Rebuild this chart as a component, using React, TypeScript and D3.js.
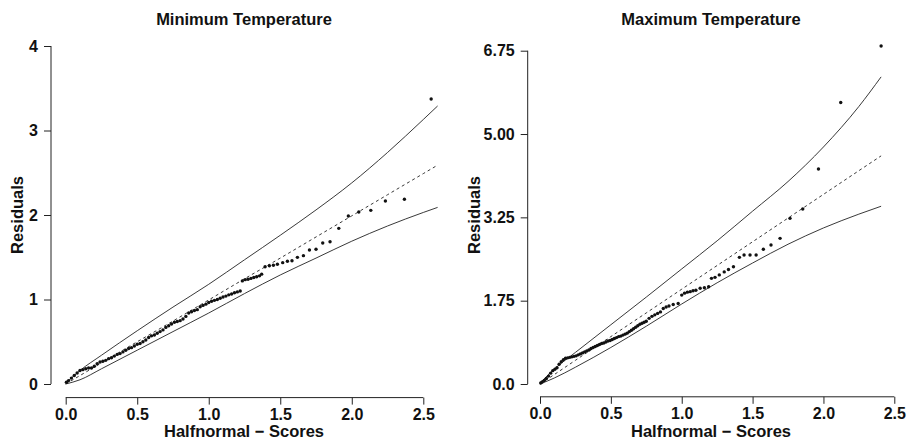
import React, { useRef, useEffect } from 'react';
import * as d3 from 'd3';

const W = 907;
const H = 443;
const FONT = '"Liberation Sans", Arial, Helvetica, sans-serif';

// ---- Minimum Temperature: half-normal scores vs residuals ----
const minScores = [
  0.005, 0.02, 0.04, 0.06, 0.08, 0.10, 0.12, 0.14, 0.16, 0.18, 0.20, 0.22, 0.24, 0.26, 0.28,
  0.30, 0.32, 0.34, 0.36, 0.38, 0.40, 0.42, 0.44, 0.46, 0.48, 0.50, 0.52, 0.54, 0.56, 0.58,
  0.60, 0.62, 0.64, 0.66, 0.68, 0.70, 0.72, 0.74, 0.76, 0.78, 0.80, 0.82, 0.84, 0.86, 0.88,
  0.90, 0.92, 0.94, 0.96, 0.98, 1.00, 1.02, 1.04, 1.06, 1.08, 1.10, 1.12, 1.14, 1.16, 1.18,
  1.20, 1.22, 1.235, 1.255, 1.275, 1.295, 1.315, 1.335, 1.355, 1.37, 1.394, 1.424, 1.452, 1.48,
  1.517, 1.55, 1.582, 1.62, 1.662, 1.704, 1.75, 1.797, 1.848, 1.909, 1.976, 2.049, 2.133,
  2.235, 2.368, 2.555,
];
const minResiduals = [
  0.02, 0.04, 0.07, 0.10, 0.13, 0.16, 0.17, 0.18, 0.19, 0.19, 0.21, 0.24, 0.26, 0.27, 0.28,
  0.30, 0.31, 0.33, 0.35, 0.36, 0.38, 0.40, 0.42, 0.43, 0.45, 0.47, 0.48, 0.50, 0.52, 0.55,
  0.57, 0.58, 0.60, 0.62, 0.64, 0.67, 0.69, 0.71, 0.73, 0.74, 0.75, 0.77, 0.80, 0.84, 0.855,
  0.87, 0.88, 0.915, 0.93, 0.945, 0.965, 0.98, 0.99, 1.0, 1.015, 1.03, 1.04, 1.055, 1.065, 1.08,
  1.09, 1.10, 1.22, 1.235, 1.24, 1.25, 1.26, 1.27, 1.28, 1.30, 1.388, 1.40, 1.405, 1.417,
  1.436, 1.452, 1.459, 1.499, 1.519, 1.586, 1.594, 1.669, 1.684, 1.842, 1.988, 2.036, 2.055,
  2.166, 2.186, 3.373,
];
const minEnvScores = [0, 0.1, 0.25, 0.5, 0.75, 1.0, 1.25, 1.5, 1.75, 2.0, 2.25, 2.5, 2.6];
const minEnvUpper = [0.01, 0.16, 0.34, 0.63, 0.91, 1.18, 1.47, 1.76, 2.06, 2.38, 2.74, 3.13, 3.29];
const minEnvLower = [0, 0.05, 0.18, 0.40, 0.62, 0.84, 1.07, 1.29, 1.49, 1.69, 1.87, 2.03, 2.09];
const minEnvMedian = [0, 0.1, 0.25, 0.5, 0.745, 0.995, 1.245, 1.49, 1.74, 1.99, 2.24, 2.49, 2.59];
const minXTicks = [0, 0.5, 1.0, 1.5, 2.0, 2.5];
const minYTicks = [0, 1, 2, 3, 4];
const minYLabels = ['0', '1', '2', '3', '4'];

// ---- Maximum Temperature ----
const maxScores = [
  0.005, 0.015, 0.03, 0.045, 0.06, 0.075, 0.09, 0.105, 0.12, 0.135, 0.15, 0.165, 0.18, 0.195,
  0.21, 0.225, 0.24, 0.255, 0.27, 0.285, 0.30, 0.315, 0.33, 0.345, 0.36, 0.375, 0.39, 0.405,
  0.42, 0.435, 0.45, 0.465, 0.48, 0.495, 0.51, 0.525, 0.54, 0.555, 0.57, 0.585, 0.60, 0.615,
  0.63, 0.645, 0.66, 0.675, 0.69, 0.705, 0.72, 0.735, 0.75, 0.77, 0.79, 0.81, 0.83, 0.85,
  0.87, 0.89, 0.91, 0.94, 0.975, 1.0, 1.02, 1.04, 1.06, 1.08, 1.10, 1.13, 1.16, 1.19, 1.21,
  1.235, 1.265, 1.30, 1.33, 1.365, 1.407, 1.44, 1.482, 1.525, 1.576, 1.63, 1.694, 1.764,
  1.854, 1.965, 2.122, 2.407,
];
const maxResiduals = [
  0.02, 0.04, 0.07, 0.11, 0.16, 0.22, 0.27, 0.30, 0.33, 0.40, 0.45, 0.49, 0.52, 0.53,
  0.54, 0.55, 0.56, 0.57, 0.59, 0.61, 0.63, 0.65, 0.67, 0.69, 0.72, 0.74, 0.76, 0.78,
  0.80, 0.82, 0.83, 0.85, 0.87, 0.88, 0.90, 0.92, 0.94, 0.96, 0.97, 0.99, 1.01, 1.03,
  1.06, 1.09, 1.12, 1.15, 1.18, 1.21, 1.23, 1.25, 1.27, 1.33, 1.37, 1.40, 1.43, 1.46,
  1.53, 1.56, 1.58, 1.61, 1.63, 1.80, 1.84, 1.86, 1.87, 1.89, 1.90, 1.94, 1.95, 1.97, 2.14,
  2.16, 2.21, 2.27, 2.32, 2.376, 2.565, 2.612, 2.612, 2.612, 2.728, 2.815, 2.95, 3.355,
  3.544, 4.354, 5.70, 6.845,
];
const maxEnvScores = [0, 0.1, 0.25, 0.5, 0.75, 1.0, 1.25, 1.5, 1.75, 2.0, 2.25, 2.407];
const maxEnvUpper = [0.02, 0.3, 0.64, 1.2, 1.76, 2.33, 2.9, 3.5, 4.1, 4.8, 5.62, 6.22];
const maxEnvLower = [0, 0.12, 0.34, 0.74, 1.17, 1.62, 2.05, 2.45, 2.83, 3.16, 3.44, 3.6];
const maxEnvMedian = [0, 0.19, 0.48, 0.96, 1.44, 1.92, 2.4, 2.88, 3.36, 3.84, 4.32, 4.62];
const maxXTicks = [0, 0.5, 1.0, 1.5, 2.0, 2.5];
const maxYTicks = [0, 1.6875, 3.375, 5.0625, 6.75];
const maxYLabels = ['0.0', '1.75', '3.25', '5.00', '6.75'];

const Panel = (props) => {
  const xRef = useRef(null);
  const yRef = useRef(null);
  const { xScale, yScale, xAxisY, yAxisX } = props;

  useEffect(() => {
    const gx = d3.select(xRef.current);
    gx.selectAll('*').remove();
    gx.call(
      d3.axisBottom(xScale)
        .tickValues(props.xTicks)
        .tickFormat(d3.format('.1f'))
        .tickSize(7)
        .tickSizeOuter(0)
        .tickPadding(4)
    );
    gx.select('.domain').remove();
    gx.append('line')
      .attr('x1', xScale(props.xTicks[0]))
      .attr('x2', xScale(props.xTicks[props.xTicks.length - 1]))
      .attr('stroke', '#222');
    gx.selectAll('.tick line').attr('stroke', '#222');
    gx.selectAll('.tick text')
      .attr('fill', '#111')
      .style('font-family', FONT)
      .style('font-size', '16px')
      .style('font-weight', 'bold');

    const gy = d3.select(yRef.current);
    gy.selectAll('*').remove();
    gy.call(
      d3.axisLeft(yScale)
        .tickValues(props.yTicks)
        .tickFormat((d, i) => props.yLabels[i])
        .tickSize(7)
        .tickSizeOuter(0)
        .tickPadding(6)
    );
    gy.select('.domain').remove();
    gy.append('line')
      .attr('y1', yScale(props.yTicks[0]))
      .attr('y2', yScale(props.yTicks[props.yTicks.length - 1]))
      .attr('stroke', '#222');
    gy.selectAll('.tick line').attr('stroke', '#222');
    gy.selectAll('.tick text')
      .attr('fill', '#111')
      .style('font-family', FONT)
      .style('font-size', '16px')
      .style('font-weight', 'bold');
  }, [props]);

  const line = d3.line()
    .x((d) => xScale(d[0]))
    .y((d) => yScale(d[1]))
    .curve(d3.curveMonotoneX);
  const env = (ys) => line(props.envX.map((x, i) => [x, ys[i]]));
  const labelStyle = { fontFamily: FONT, fontSize: 16.5, fontWeight: 'bold' };

  return (
    <g>
      <text x={props.titleX} y={25} textAnchor="middle" style={labelStyle} fill="#111">
        {props.title}
      </text>
      <g ref={xRef} transform={`translate(0,${xAxisY})`}></g>
      <g ref={yRef} transform={`translate(${yAxisX},0)`}></g>
      <path d={env(props.upper)} fill="none" stroke="#222" strokeWidth={0.9} />
      <path d={env(props.lower)} fill="none" stroke="#222" strokeWidth={0.9} />
      <path d={env(props.median)} fill="none" stroke="#222" strokeWidth={0.9} strokeDasharray="3,3" />
      {props.xs.map((x, i) => (
        <circle key={i} cx={xScale(x)} cy={yScale(props.ys[i])} r={1.7} fill="#111" />
      ))}
      <text x={props.titleX} y={437} textAnchor="middle" style={labelStyle} fill="#111">
        Halfnormal − Scores
      </text>
      <text transform={`translate(${props.ylabX},215) rotate(-90)`} textAnchor="middle"
        style={labelStyle} fill="#111">
        Residuals
      </text>
    </g>
  );
};

const App = () => {
  const minX = d3.scaleLinear().domain([0, 2.5]).range([65.7, 423.3]);
  const minY = d3.scaleLinear().domain([0, 4]).range([384, 46]);
  const maxX = d3.scaleLinear().domain([0, 2.5]).range([540, 894.3]);
  const maxY = d3.scaleLinear().domain([0, 6.75]).range([384, 50.7]);

  return (
    <svg width={W} height={H} viewBox={`0 0 ${W} ${H}`}
      style={{ position: 'absolute', left: 0, top: 0, background: '#fff' }}>
      <Panel
        title="Minimum Temperature" titleX={244} ylabX={23}
        xScale={minX} yScale={minY} xAxisY={397.6} yAxisX={51}
        xTicks={minXTicks} yTicks={minYTicks} yLabels={minYLabels}
        envX={minEnvScores} upper={minEnvUpper} lower={minEnvLower} median={minEnvMedian}
        xs={minScores} ys={minResiduals}
      />
      <Panel
        title="Maximum Temperature" titleX={711} ylabX={480}
        xScale={maxX} yScale={maxY} xAxisY={396.8} yAxisX={527.7}
        xTicks={maxXTicks} yTicks={maxYTicks} yLabels={maxYLabels}
        envX={maxEnvScores} upper={maxEnvUpper} lower={maxEnvLower} median={maxEnvMedian}
        xs={maxScores} ys={maxResiduals}
      />
    </svg>
  );
};

export default App;
